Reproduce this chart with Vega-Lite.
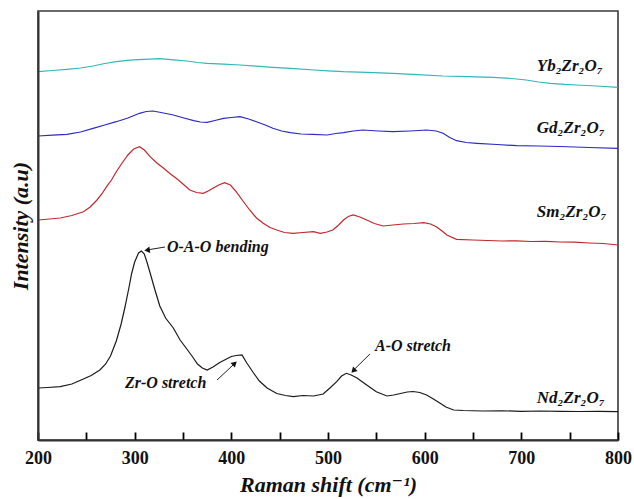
{
  "$schema": "https://vega.github.io/schema/vega-lite/v6.json",
  "width": 580,
  "height": 429,
  "autosize": "none",
  "padding": {"left": 38, "top": 11, "right": 16, "bottom": 59},
  "background": "white",
  "config": {
    "view": {"stroke": "#3a3a3a", "strokeWidth": 1.6},
    "font": "'Liberation Serif', 'DejaVu Serif', serif"
  },
  "datasets": {
    "spectra": [
      {"s": "Nd", "x": 200, "y": 52}, {"s": "Nd", "x": 210, "y": 52.5}, {"s": "Nd", "x": 223, "y": 53.3}, {"s": "Nd", "x": 235, "y": 56}, {"s": "Nd", "x": 247, "y": 61}, {"s": "Nd", "x": 255, "y": 64.5}, {"s": "Nd", "x": 264, "y": 70}, {"s": "Nd", "x": 270, "y": 76}, {"s": "Nd", "x": 275, "y": 84}, {"s": "Nd", "x": 281, "y": 99}, {"s": "Nd", "x": 286, "y": 116}, {"s": "Nd", "x": 290, "y": 133}, {"s": "Nd", "x": 294, "y": 152}, {"s": "Nd", "x": 297, "y": 167}, {"s": "Nd", "x": 300, "y": 178}, {"s": "Nd", "x": 304, "y": 187}, {"s": "Nd", "x": 307, "y": 189}, {"s": "Nd", "x": 310, "y": 186}, {"s": "Nd", "x": 313, "y": 177}, {"s": "Nd", "x": 316, "y": 167}, {"s": "Nd", "x": 321, "y": 150}, {"s": "Nd", "x": 326, "y": 134}, {"s": "Nd", "x": 332, "y": 122}, {"s": "Nd", "x": 340, "y": 112}, {"s": "Nd", "x": 347, "y": 100}, {"s": "Nd", "x": 354, "y": 91}, {"s": "Nd", "x": 360, "y": 83}, {"s": "Nd", "x": 365, "y": 76}, {"s": "Nd", "x": 370, "y": 72}, {"s": "Nd", "x": 375, "y": 70}, {"s": "Nd", "x": 381, "y": 73}, {"s": "Nd", "x": 388, "y": 77.5}, {"s": "Nd", "x": 395, "y": 81}, {"s": "Nd", "x": 400, "y": 83.5}, {"s": "Nd", "x": 405, "y": 84.5}, {"s": "Nd", "x": 411, "y": 85}, {"s": "Nd", "x": 416, "y": 77}, {"s": "Nd", "x": 423, "y": 67}, {"s": "Nd", "x": 429, "y": 59}, {"s": "Nd", "x": 437, "y": 52}, {"s": "Nd", "x": 447, "y": 46.5}, {"s": "Nd", "x": 456, "y": 44.5}, {"s": "Nd", "x": 464, "y": 43.3}, {"s": "Nd", "x": 474, "y": 44.5}, {"s": "Nd", "x": 485, "y": 44}, {"s": "Nd", "x": 495, "y": 46}, {"s": "Nd", "x": 502, "y": 52}, {"s": "Nd", "x": 509, "y": 58.3}, {"s": "Nd", "x": 514, "y": 64}, {"s": "Nd", "x": 519, "y": 66.7}, {"s": "Nd", "x": 524, "y": 65}, {"s": "Nd", "x": 530, "y": 62}, {"s": "Nd", "x": 540, "y": 55}, {"s": "Nd", "x": 550, "y": 48.3}, {"s": "Nd", "x": 561, "y": 44}, {"s": "Nd", "x": 568, "y": 45}, {"s": "Nd", "x": 575, "y": 46.5}, {"s": "Nd", "x": 582, "y": 48}, {"s": "Nd", "x": 588, "y": 48.5}, {"s": "Nd", "x": 595, "y": 47.5}, {"s": "Nd", "x": 602, "y": 45}, {"s": "Nd", "x": 609, "y": 41}, {"s": "Nd", "x": 616, "y": 36.7}, {"s": "Nd", "x": 622, "y": 33}, {"s": "Nd", "x": 630, "y": 30}, {"s": "Nd", "x": 640, "y": 29.5}, {"s": "Nd", "x": 660, "y": 29}, {"s": "Nd", "x": 680, "y": 29.2}, {"s": "Nd", "x": 700, "y": 28.7}, {"s": "Nd", "x": 720, "y": 29}, {"s": "Nd", "x": 740, "y": 28.7}, {"s": "Nd", "x": 760, "y": 28.5}, {"s": "Nd", "x": 780, "y": 28.6}, {"s": "Nd", "x": 800, "y": 28.3},

      {"s": "Sm", "x": 200, "y": 220}, {"s": "Sm", "x": 212, "y": 221}, {"s": "Sm", "x": 223, "y": 222}, {"s": "Sm", "x": 235, "y": 224.5}, {"s": "Sm", "x": 247, "y": 228.3}, {"s": "Sm", "x": 254, "y": 233}, {"s": "Sm", "x": 261, "y": 240}, {"s": "Sm", "x": 266, "y": 246}, {"s": "Sm", "x": 271, "y": 253.3}, {"s": "Sm", "x": 276, "y": 260}, {"s": "Sm", "x": 281, "y": 268.3}, {"s": "Sm", "x": 287, "y": 277}, {"s": "Sm", "x": 293, "y": 285}, {"s": "Sm", "x": 299, "y": 291}, {"s": "Sm", "x": 305, "y": 293.3}, {"s": "Sm", "x": 310, "y": 290}, {"s": "Sm", "x": 316, "y": 283.3}, {"s": "Sm", "x": 323, "y": 277}, {"s": "Sm", "x": 330, "y": 271.7}, {"s": "Sm", "x": 337, "y": 266}, {"s": "Sm", "x": 343, "y": 261.7}, {"s": "Sm", "x": 350, "y": 256}, {"s": "Sm", "x": 357, "y": 250}, {"s": "Sm", "x": 364, "y": 247.5}, {"s": "Sm", "x": 371, "y": 246.7}, {"s": "Sm", "x": 376, "y": 249}, {"s": "Sm", "x": 381, "y": 251.7}, {"s": "Sm", "x": 387, "y": 255}, {"s": "Sm", "x": 393, "y": 257.3}, {"s": "Sm", "x": 399, "y": 255}, {"s": "Sm", "x": 405, "y": 248.3}, {"s": "Sm", "x": 412, "y": 239}, {"s": "Sm", "x": 419, "y": 230}, {"s": "Sm", "x": 426, "y": 222}, {"s": "Sm", "x": 433, "y": 216.7}, {"s": "Sm", "x": 440, "y": 212.5}, {"s": "Sm", "x": 447, "y": 210}, {"s": "Sm", "x": 455, "y": 207.5}, {"s": "Sm", "x": 464, "y": 206.7}, {"s": "Sm", "x": 474, "y": 207.5}, {"s": "Sm", "x": 485, "y": 208.3}, {"s": "Sm", "x": 492, "y": 206.7}, {"s": "Sm", "x": 499, "y": 208}, {"s": "Sm", "x": 505, "y": 210}, {"s": "Sm", "x": 511, "y": 215}, {"s": "Sm", "x": 516, "y": 220}, {"s": "Sm", "x": 521, "y": 223.5}, {"s": "Sm", "x": 526, "y": 225}, {"s": "Sm", "x": 533, "y": 223}, {"s": "Sm", "x": 540, "y": 220}, {"s": "Sm", "x": 548, "y": 216.5}, {"s": "Sm", "x": 557, "y": 214}, {"s": "Sm", "x": 567, "y": 215}, {"s": "Sm", "x": 578, "y": 216}, {"s": "Sm", "x": 589, "y": 216.5}, {"s": "Sm", "x": 599, "y": 217.3}, {"s": "Sm", "x": 606, "y": 216}, {"s": "Sm", "x": 612, "y": 213.3}, {"s": "Sm", "x": 618, "y": 209}, {"s": "Sm", "x": 623, "y": 205}, {"s": "Sm", "x": 633, "y": 200.7}, {"s": "Sm", "x": 650, "y": 200}, {"s": "Sm", "x": 665, "y": 199.5}, {"s": "Sm", "x": 680, "y": 199}, {"s": "Sm", "x": 695, "y": 199.2}, {"s": "Sm", "x": 710, "y": 198.5}, {"s": "Sm", "x": 725, "y": 198.7}, {"s": "Sm", "x": 740, "y": 198}, {"s": "Sm", "x": 755, "y": 197.8}, {"s": "Sm", "x": 770, "y": 197}, {"s": "Sm", "x": 785, "y": 196.5}, {"s": "Sm", "x": 800, "y": 195},

      {"s": "Gd", "x": 200, "y": 304}, {"s": "Gd", "x": 215, "y": 304.8}, {"s": "Gd", "x": 230, "y": 305.7}, {"s": "Gd", "x": 244, "y": 308}, {"s": "Gd", "x": 257, "y": 311.7}, {"s": "Gd", "x": 269, "y": 315}, {"s": "Gd", "x": 281, "y": 318.3}, {"s": "Gd", "x": 293, "y": 322}, {"s": "Gd", "x": 305, "y": 326.7}, {"s": "Gd", "x": 312, "y": 328.5}, {"s": "Gd", "x": 319, "y": 329}, {"s": "Gd", "x": 330, "y": 327}, {"s": "Gd", "x": 340, "y": 325}, {"s": "Gd", "x": 351, "y": 322}, {"s": "Gd", "x": 361, "y": 319.3}, {"s": "Gd", "x": 368, "y": 318}, {"s": "Gd", "x": 375, "y": 317.7}, {"s": "Gd", "x": 383, "y": 319.5}, {"s": "Gd", "x": 392, "y": 321.7}, {"s": "Gd", "x": 400, "y": 322.5}, {"s": "Gd", "x": 409, "y": 323.3}, {"s": "Gd", "x": 418, "y": 321}, {"s": "Gd", "x": 426, "y": 318.3}, {"s": "Gd", "x": 435, "y": 315}, {"s": "Gd", "x": 443, "y": 311.7}, {"s": "Gd", "x": 452, "y": 309}, {"s": "Gd", "x": 461, "y": 307.3}, {"s": "Gd", "x": 472, "y": 306}, {"s": "Gd", "x": 484, "y": 305.7}, {"s": "Gd", "x": 499, "y": 305}, {"s": "Gd", "x": 508, "y": 306.5}, {"s": "Gd", "x": 516, "y": 307.3}, {"s": "Gd", "x": 526, "y": 309}, {"s": "Gd", "x": 536, "y": 310}, {"s": "Gd", "x": 552, "y": 309}, {"s": "Gd", "x": 567, "y": 308.3}, {"s": "Gd", "x": 585, "y": 309}, {"s": "Gd", "x": 602, "y": 310}, {"s": "Gd", "x": 612, "y": 309}, {"s": "Gd", "x": 619, "y": 306.7}, {"s": "Gd", "x": 626, "y": 302.5}, {"s": "Gd", "x": 633, "y": 299.3}, {"s": "Gd", "x": 643, "y": 297.5}, {"s": "Gd", "x": 654, "y": 296.7}, {"s": "Gd", "x": 675, "y": 295.5}, {"s": "Gd", "x": 695, "y": 294.3}, {"s": "Gd", "x": 718, "y": 294}, {"s": "Gd", "x": 740, "y": 293.5}, {"s": "Gd", "x": 770, "y": 292.5}, {"s": "Gd", "x": 800, "y": 291.7},

      {"s": "Yb", "x": 200, "y": 368.3}, {"s": "Yb", "x": 215, "y": 369.5}, {"s": "Yb", "x": 230, "y": 370.7}, {"s": "Yb", "x": 244, "y": 372}, {"s": "Yb", "x": 257, "y": 374}, {"s": "Yb", "x": 269, "y": 376.5}, {"s": "Yb", "x": 281, "y": 378.3}, {"s": "Yb", "x": 295, "y": 379.8}, {"s": "Yb", "x": 309, "y": 380.7}, {"s": "Yb", "x": 326, "y": 381.3}, {"s": "Yb", "x": 340, "y": 380.2}, {"s": "Yb", "x": 354, "y": 379}, {"s": "Yb", "x": 365, "y": 377.5}, {"s": "Yb", "x": 375, "y": 376.7}, {"s": "Yb", "x": 392, "y": 375.8}, {"s": "Yb", "x": 409, "y": 375}, {"s": "Yb", "x": 426, "y": 373.8}, {"s": "Yb", "x": 443, "y": 372.7}, {"s": "Yb", "x": 465, "y": 371.3}, {"s": "Yb", "x": 486, "y": 370}, {"s": "Yb", "x": 500, "y": 369.2}, {"s": "Yb", "x": 516, "y": 368.3}, {"s": "Yb", "x": 540, "y": 367.6}, {"s": "Yb", "x": 567, "y": 366.7}, {"s": "Yb", "x": 593, "y": 365.3}, {"s": "Yb", "x": 619, "y": 364}, {"s": "Yb", "x": 645, "y": 363.4}, {"s": "Yb", "x": 671, "y": 362.7}, {"s": "Yb", "x": 690, "y": 361.5}, {"s": "Yb", "x": 705, "y": 360}, {"s": "Yb", "x": 718, "y": 358}, {"s": "Yb", "x": 730, "y": 356.7}, {"s": "Yb", "x": 745, "y": 355.6}, {"s": "Yb", "x": 757, "y": 355}, {"s": "Yb", "x": 778, "y": 354}, {"s": "Yb", "x": 800, "y": 352.7}
    ],
    "labels": [
      {"t": "Yb₂Zr₂O₇", "x": 716, "y": 369},
      {"t": "Gd₂Zr₂O₇", "x": 716, "y": 307.5},
      {"t": "Sm₂Zr₂O₇", "x": 716, "y": 223},
      {"t": "Nd₂Zr₂O₇", "x": 716, "y": 37}
    ],
    "notes": [
      {"t": "O-A-O bending", "x": 333.4, "y": 193},
      {"t": "Zr-O stretch", "x": 290, "y": 56.7},
      {"t": "A-O stretch", "x": 548.6, "y": 94}
    ],
    "arrows": [
      {"n": "a1", "x": 331.4, "y": 193, "x2": 312.5, "y2": 190, "hx": 313.8, "hy": 190},
      {"n": "a2", "x": 385.2, "y": 60, "x2": 403.5, "y2": 76.5, "hx": 402.8, "hy": 76},
      {"n": "a3", "x": 543.4, "y": 86, "x2": 526, "y2": 69.5, "hx": 526.9, "hy": 70}
    ]
  },
  "layer": [
    {
      "data": {"name": "spectra"},
      "mark": {"type": "line", "strokeWidth": 1.2},
      "encoding": {
        "x": {
          "field": "x", "type": "quantitative",
          "scale": {"domain": [200, 800], "nice": false, "zero": false},
          "axis": {
            "title": "Raman shift (cm⁻¹)",
            "values": [200, 250, 300, 350, 400, 450, 500, 550, 600, 650, 700, 750, 800],
            "labelExpr": "datum.value % 100 === 0 ? datum.label : ''",
            "labelFontSize": 18, "labelFontWeight": "bold", "labelColor": "#111",
            "labelPadding": 17, "labelFlush": false, "labelOverlap": false,
            "ticks": true,
            "tickSize": -8,
            "tickColor": "#000", "tickWidth": 1.8, "tickOpacity": 1,
            "domainColor": "#333", "domainWidth": 2,
            "grid": false, "zindex": 2,
            "titleFontSize": 22, "titleFontWeight": "bold", "titleFontStyle": "italic", "titleColor": "#111",
            "titlePadding": 7
          }
        },
        "y": {
          "field": "y", "type": "quantitative",
          "scale": {"domain": [0, 429], "nice": false, "zero": false},
          "axis": {
            "title": "Intensity (a.u)", "ticks": false, "labels": false, "grid": false, "zindex": 2,
            "domainColor": "#333", "domainWidth": 2,
            "titleFontSize": 22, "titleFontWeight": "bold", "titleFontStyle": "italic", "titleColor": "#111",
            "titlePadding": 6
          }
        },
        "color": {
          "field": "s", "type": "nominal", "legend": null,
          "scale": {"domain": ["Nd", "Sm", "Gd", "Yb"], "range": ["#1a1a1a", "#c2272d", "#2a2ac8", "#2fb8b8"]}
        }
      }
    },
    {
      "data": {"name": "labels"},
      "mark": {"type": "text", "align": "left", "baseline": "alphabetic", "fontSize": 17, "fontWeight": "bold", "fontStyle": "italic", "color": "#111"},
      "encoding": {
        "x": {"field": "x", "type": "quantitative"},
        "y": {"field": "y", "type": "quantitative"},
        "text": {"field": "t"}
      }
    },
    {
      "data": {"name": "notes"},
      "mark": {"type": "text", "align": "left", "baseline": "middle", "fontSize": 16, "fontWeight": "bold", "fontStyle": "italic", "color": "#111"},
      "encoding": {
        "x": {"field": "x", "type": "quantitative"},
        "y": {"field": "y", "type": "quantitative"},
        "text": {"field": "t"}
      }
    },
    {
      "data": {"name": "arrows"},
      "mark": {"type": "rule", "strokeWidth": 1, "color": "#222"},
      "encoding": {
        "x": {"field": "x", "type": "quantitative"},
        "y": {"field": "y", "type": "quantitative"},
        "x2": {"field": "x2"},
        "y2": {"field": "y2"}
      }
    },
    {
      "data": {"name": "arrows"},
      "transform": [{"filter": "datum.n === 'a1'"}],
      "mark": {"type": "point", "shape": "triangle", "filled": true, "size": 40, "angle": 262, "color": "#111", "opacity": 1},
      "encoding": {
        "x": {"field": "hx", "type": "quantitative"},
        "y": {"field": "hy", "type": "quantitative"}
      }
    },
    {
      "data": {"name": "arrows"},
      "transform": [{"filter": "datum.n === 'a2'"}],
      "mark": {"type": "point", "shape": "triangle", "filled": true, "size": 40, "angle": 46, "color": "#111", "opacity": 1},
      "encoding": {
        "x": {"field": "hx", "type": "quantitative"},
        "y": {"field": "hy", "type": "quantitative"}
      }
    },
    {
      "data": {"name": "arrows"},
      "transform": [{"filter": "datum.n === 'a3'"}],
      "mark": {"type": "point", "shape": "triangle", "filled": true, "size": 40, "angle": 224, "color": "#111", "opacity": 1},
      "encoding": {
        "x": {"field": "hx", "type": "quantitative"},
        "y": {"field": "hy", "type": "quantitative"}
      }
    }
  ]
}
